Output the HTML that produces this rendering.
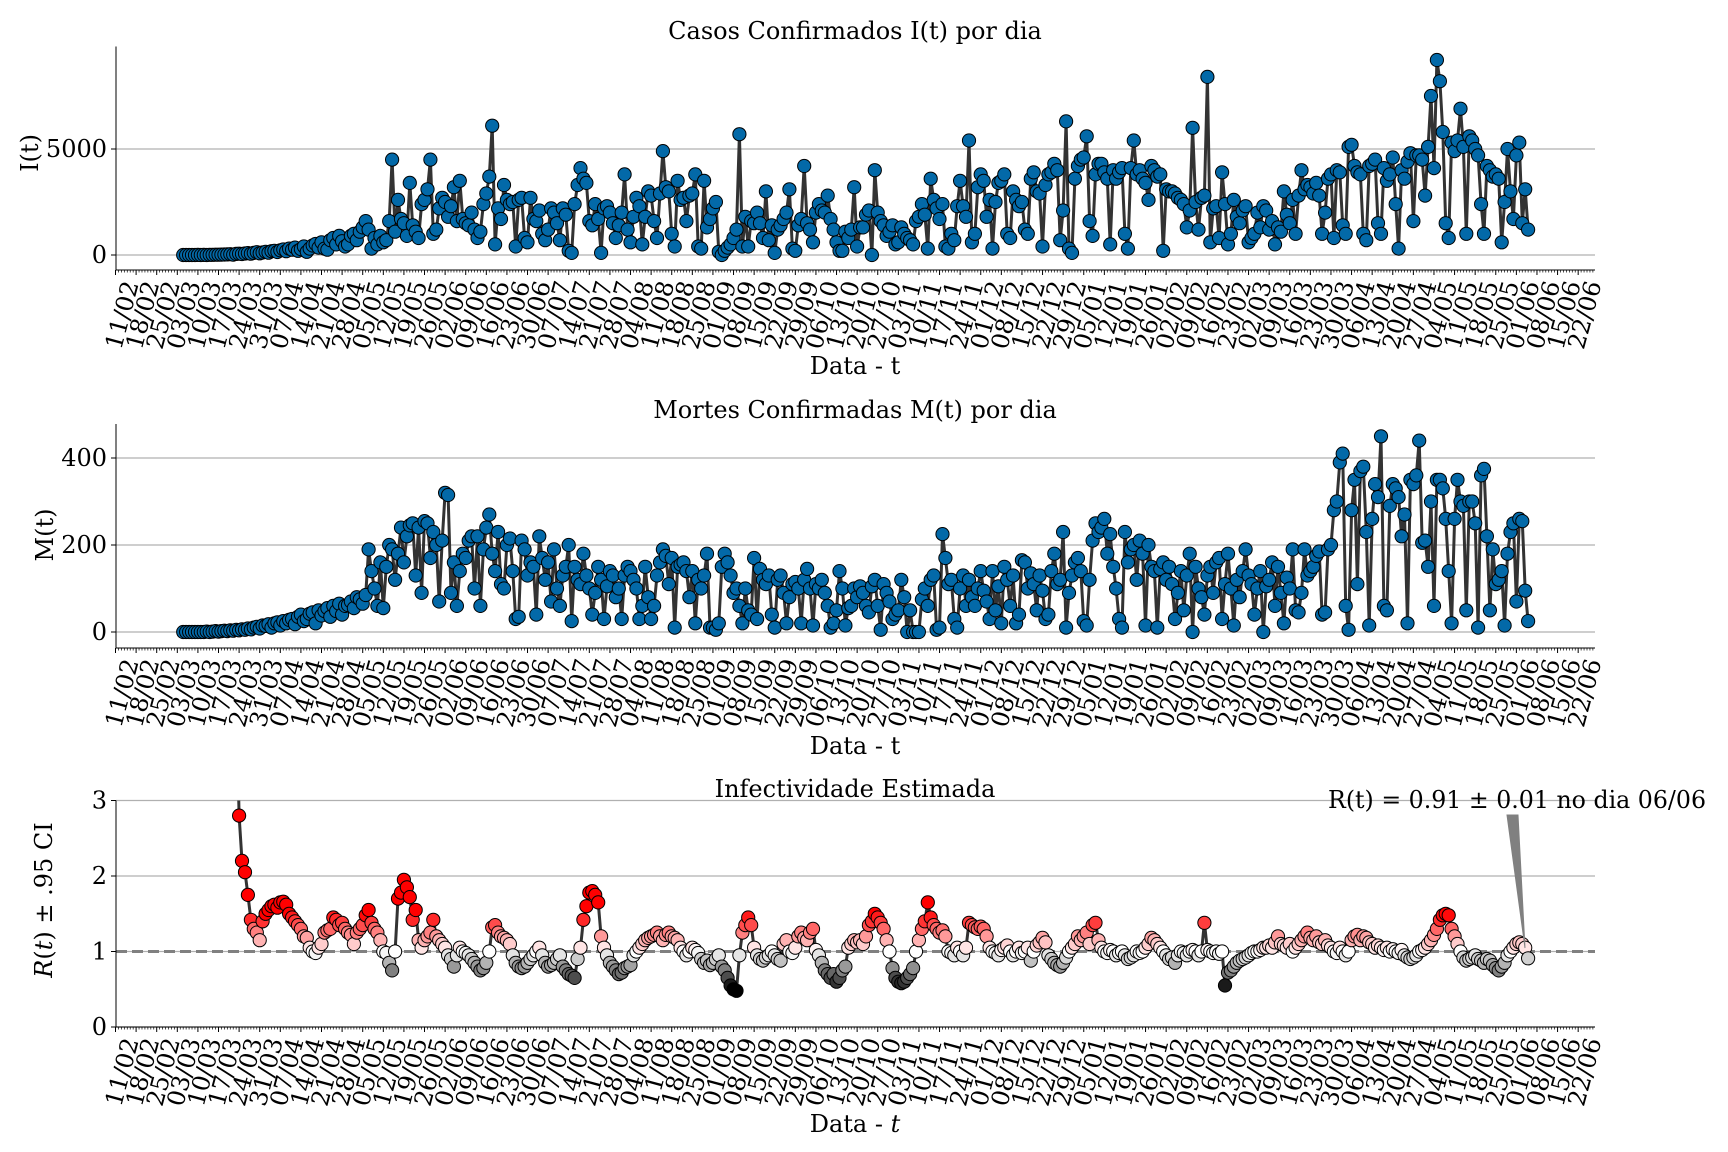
<!DOCTYPE html>
<html><head><meta charset="utf-8">
<style>
html,body{margin:0;padding:0;background:#fff;}
svg{display:block;font-family:"DejaVu Serif","Liberation Serif",serif;}
</style></head>
<body>
<svg id="chart" xmlns="http://www.w3.org/2000/svg" width="1728" height="1152" viewBox="0 0 1728 1152">
<defs><clipPath id="clipR"><rect x="100" y="800.5" width="1500" height="226.5"/></clipPath></defs>
<g id="axes"></g>
<g id="marks"></g>
<text x="855" y="39" font-size="24" text-anchor="middle">Casos Confirmados I(t) por dia</text>
<text x="855" y="418" font-size="24" text-anchor="middle">Mortes Confirmadas M(t) por dia</text>
<text x="855" y="797" font-size="24" text-anchor="middle">Infectividade Estimada</text>
<text x="855" y="374" font-size="24" text-anchor="middle">Data - t</text>
<text x="855" y="754" font-size="24" text-anchor="middle">Data - t</text>
<text x="855" y="1132" font-size="24" text-anchor="middle">Data - <tspan font-style="italic">t</tspan></text>
<text x="0" y="0" font-size="24" text-anchor="middle" transform="translate(38,153) rotate(-90)">I(t)</text>
<text x="0" y="0" font-size="24" text-anchor="middle" transform="translate(53,535) rotate(-90)">M(t)</text>
<text x="0" y="0" font-size="24" text-anchor="middle" transform="translate(52,900) rotate(-90)"><tspan font-style="italic">R</tspan>(<tspan font-style="italic">t</tspan>) ± .95 CI</text>
<polygon points="1507,815 1518,815 1525,948" fill="#808080" stroke="#808080" stroke-width="1"/>
<text x="1328" y="808" font-size="24" textLength="378" lengthAdjust="spacingAndGlyphs">R(t) = 0.91 ± 0.01 no dia 06/06</text>
</svg>
<script>
// ---- data ----
const startDate = [2020, 1, 11]; // 11/02/2020 = day 0
const casesStartDay = 23;
const cases = [
0,0,1,0,2,3,1, 5,2,8,10,15,12,20, 25,30,40,20,50,60,45, 70,90,60,100,130,80,120,
150,110,180,200,140,220,260, 180,300,250,350,200,280,400, 150,300,450,520,350,600,300,
250,700,800,500,900,650,400, 500,900,1000,700,1100,1300,1600, 1200,300,800,500,900,600,700,
1600,4500,1100,2600,1700,1500,900, 3400,1400,1100,800,2400,2600,3100, 4500,1000,1200,2200,2700,2500,1800,
2300,3200,1600,3500,1700,1500,1400, 2000,1200,800,1100,2400,2900,3700, 6100,500,2200,1700,3300,2600,2400,
2500,400,2600,2700,800,600,2700, 1700,1600,2100,1000,700,1200,2200, 2000,1500,700,2200,1900,200,100,
2400,3300,4100,3600,3400,1600,1400, 2400,1700,100,2200,2300,2000,1500, 800,1400,2000,3800,1200,600,1800,
2700,2300,500,1800,3000,2800,1600, 800,2900,4900,3200,3000,1000,400, 3500,2600,2700,1600,2800,2900,3800,
400,300,3500,1300,1700,2200,2500, 150,0,200,350,500,800,1200, 5700,400,1800,400,1600,1500,2000,
1500,800,3000,700,1400,100,1200, 1400,1700,2000,3100,300,200,1400, 1700,4200,1500,1200,600,2000,2400,
2100,2000,2800,1700,1200,600,200, 200,1100,800,1200,3200,400,1300, 1300,1900,2100,0,4000,2000,1600,
1400,900,1100,1400,500,600,1300, 1000,800,700,500,1600,1800,2400, 1900,300,3600,2600,2200,1700,2400,
400,300,1000,700,2300,3500,2300, 1800,5400,600,1000,3200,3800,3500, 1800,2600,300,2500,3400,3500,3800,
1000,800,3000,2600,2300,2500,1200, 1000,3600,3900,3000,2900,400,3300, 3800,3900,4300,4000,700,2100,6300,
300,100,3600,4200,4500,4600,5600, 1600,900,3800,4300,4300,3900,3600, 500,4000,3600,3900,4100,1000,300,
4100,5400,3800,4000,3600,3400,2600, 4200,4000,3700,3800,200,3100,3000, 3000,2900,2700,2600,2400,1300,2100,
6000,2500,1200,2700,2800,8400,600, 2200,2300,800,3900,2400,500,1000, 2600,1800,1500,2100,2300,600,800,
1000,2000,1300,2300,2100,1200,1600, 500,1300,1100,3000,1900,1500,2600, 1000,2800,4000,3100,3300,3200,2900,
3400,2800,1000,2000,3600,3800,800, 4000,3900,1400,1000,5100,5200,4200, 3900,3800,1000,700,4200,4300,4500,
1500,1000,4100,3500,3800,4600,2400, 300,4000,3600,4400,4800,1600,4700, 4700,4500,2800,5100,7500,4100,9200,
8200,5800,1500,800,5300,4900,5400, 6900,5100,1000,5600,5400,5000,4700, 2400,1000,4200,4000,3700,3800,3600,
600,2500,5000,3000,1700,4700,5300, 1500,3100,1200
];
const deaths = [
0,0,0,0,0,0,0, 0,1,0,1,2,1,2, 3,2,4,3,5,4,6, 5,8,6,10,12,8,15,
14,18,10,20,22,15,25, 20,28,30,18,35,40,25, 30,42,45,20,50,38,48,
55,35,60,48,65,40,60, 62,70,55,80,75,65,85, 190,140,100,60,160,55,150,
200,190,120,180,240,160,220, 245,250,130,240,90,255,250, 170,230,200,70,210,320,315,
90,160,60,140,180,170,210, 220,100,220,60,190,240,270, 180,140,230,110,100,200,215,
140,30,35,210,190,130,160, 150,40,220,170,120,160,70, 190,100,60,130,150,200,25,
150,120,110,180,130,100,40, 90,150,120,30,105,140,130, 80,100,30,130,150,140,120,
100,30,60,150,80,30,60, 130,160,190,175,110,170,10, 150,155,160,140,80,140,20,
120,100,130,180,10,10,5, 20,150,180,160,130,90,100, 60,20,100,50,40,170,30,
145,120,110,130,40,10,120, 130,90,20,80,110,115,100, 20,120,145,100,15,110,100,
120,90,60,10,20,50,140, 100,15,55,60,100,80,105, 90,60,45,105,120,60,5,
110,90,70,30,40,50,120, 80,0,50,0,0,0,75, 100,60,120,130,5,10,225,
170,110,120,30,10,100,130, 60,120,80,60,100,140,95, 70,30,140,50,105,20,150,
120,60,130,20,40,165,160, 100,135,110,50,130,95,30, 40,140,180,110,120,230,10,
90,130,160,170,140,25,15, 120,210,250,230,240,260,180, 225,150,100,30,10,230,160,
190,200,120,210,180,15,200, 150,140,10,145,160,120,150, 110,30,90,140,50,130,180,
0,150,100,80,40,130,150, 90,160,170,30,110,180,100, 15,120,80,140,190,130,110,
40,100,140,0,105,120,160, 60,150,90,20,125,100,190, 50,45,90,190,130,140,150,
175,185,40,45,190,200,280, 300,390,410,60,5,280,350, 110,370,380,230,15,260,340,
310,450,60,50,290,340,330, 310,220,270,20,350,340,360, 440,205,210,150,300,60,350,
350,330,260,140,20,260,350, 300,290,50,300,300,250,10, 360,375,220,50,190,110,120,
140,15,180,230,250,70,260, 255,95,25
];
const rtStartDay = 41;
const rt = [
4.5,2.8,2.2,2.05,1.75,1.42,1.3,1.25,1.15,1.4,
1.5,1.55,1.6,1.62,1.58,1.65,1.66,1.62,1.5,1.45,
1.4,1.35,1.3,1.2,1.18,1.05,1.0,0.98,1.05,1.1,
1.25,1.28,1.3,1.45,1.42,1.35,1.38,1.3,1.25,1.22,
1.1,1.25,1.3,1.35,1.48,1.55,1.38,1.3,1.25,1.15,
1.0,0.98,0.85,0.75,1.0,1.7,1.78,1.95,1.85,1.72,
1.42,1.55,1.15,1.05,1.15,1.2,1.25,1.42,1.2,1.15,
1.1,1.05,0.95,0.9,0.8,0.95,1.05,1.0,0.98,0.95,
0.9,0.85,0.8,0.75,0.78,0.85,1.0,1.32,1.35,1.25,
1.2,1.18,1.15,1.1,0.95,0.85,0.8,0.78,0.8,0.85,
0.9,0.95,1.0,1.05,0.95,0.85,0.8,0.82,0.85,0.9,
0.95,0.8,0.75,0.7,0.68,0.65,0.9,1.05,1.42,1.6,
1.78,1.8,1.75,1.65,1.2,1.05,0.95,0.85,0.8,0.75,
0.7,0.72,0.78,0.8,0.82,0.95,1.0,1.05,1.1,1.15,
1.18,1.2,1.22,1.25,1.2,1.15,1.22,1.25,1.2,1.18,
1.15,1.05,1.0,0.95,1.0,1.05,1.02,0.98,0.9,0.85,
0.88,0.82,0.85,0.9,0.95,0.8,0.75,0.65,0.55,0.5,
0.48,0.95,1.25,1.35,1.45,1.35,1.05,0.95,0.9,0.88,
0.92,0.95,1.0,0.95,0.9,0.88,1.1,1.15,1.0,0.98,
1.05,1.2,1.25,1.18,1.15,1.25,1.3,1.02,0.95,0.85,
0.75,0.7,0.65,0.7,0.6,0.65,0.75,0.8,1.05,1.1,
1.15,1.12,1.15,1.1,1.2,1.35,1.4,1.5,1.45,1.38,
1.3,1.15,1.0,0.78,0.65,0.6,0.58,0.6,0.65,0.7,
0.78,1.0,1.15,1.3,1.4,1.65,1.45,1.35,1.3,1.25,
1.28,1.2,1.0,0.98,0.95,1.05,1.0,0.95,1.05,1.38,
1.35,1.32,1.3,1.33,1.3,1.2,1.05,1.0,0.98,0.95,
1.02,1.05,1.08,1.0,0.95,1.0,1.05,0.98,1.0,1.05,
0.88,1.0,1.08,1.12,1.18,1.12,0.95,0.9,0.85,0.82,
0.8,0.85,0.92,1.0,1.05,1.1,1.2,1.15,1.2,1.25,
1.1,1.35,1.38,1.15,1.05,1.0,0.98,1.02,1.0,0.95,
0.98,1.0,0.95,0.9,0.92,0.95,1.0,0.98,1.0,1.05,
1.1,1.18,1.15,1.1,1.05,1.0,0.95,0.9,0.92,0.85,
0.95,1.0,0.98,0.95,1.0,1.02,1.0,0.95,1.0,1.38,
1.02,1.0,0.98,1.0,0.97,1.0,0.55,0.72,0.75,0.8,
0.85,0.88,0.9,0.92,0.95,0.98,1.0,1.0,1.02,1.05,
1.05,1.08,1.05,1.12,1.2,1.1,1.08,1.05,1.1,1.0,
1.05,1.1,1.15,1.2,1.25,1.18,1.15,1.2,1.12,1.1,
1.15,1.08,1.05,1.0,0.98,1.05,1.0,0.95,1.0,1.15,
1.2,1.22,1.15,1.2,1.18,1.12,1.1,1.05,1.08,1.05,
1.02,1.05,1.0,1.03,1.0,0.98,1.02,0.95,0.92,0.9,
0.92,0.95,1.0,1.02,1.05,1.1,1.15,1.22,1.3,1.42,
1.48,1.5,1.48,1.3,1.2,1.1,1.0,0.92,0.88,0.9,
0.92,0.95,0.9,0.88,0.85,0.9,0.88,0.82,0.78,0.75,
0.8,0.85,0.95,1.0,1.05,1.1,1.12,1.1,1.05,0.91
];
const casesTicks = [0, 5000];
const deathsTicks = [0, 200, 400];
const rtTicks = [0, 1, 2, 3];

// ---- scales ----
const NS = "http://www.w3.org/2000/svg";
const X0 = 115.5, PXD = 2.943, XL = 116, XR = 1595;
function xDay(d){ return X0 + PXD * d; }
function yCases(v){ return 255 - v * 0.0212; }
function yDeaths(v){ return 632 - v * 0.435; }
function yR(v){ return 1027 - v * 75.5; }
const panels = [
  {name:'cases', top:46.5, bottom:270, ticks:casesTicks, y:yCases},
  {name:'deaths', top:424, bottom:648, ticks:deathsTicks, y:yDeaths},
  {name:'rt', top:800.5, bottom:1027, ticks:rtTicks, y:yR}
];
function mk(tag, attrs, parent){
  const e = document.createElementNS(NS, tag);
  for (const k in attrs) e.setAttribute(k, attrs[k]);
  parent.appendChild(e);
  return e;
}
const axes = document.getElementById('axes');
const marks = document.getElementById('marks');
const dayMs = 86400000;
const t0 = Date.UTC(startDate[0], startDate[1], startDate[2]);
function pad(n){ return (n < 10 ? '0' : '') + n; }

panels.forEach(p => {
  const g = mk('g', {}, axes);
  
  
  p.ticks.forEach(t => {
    const y = p.y(t);
    const gl = mk('line', {x1:XL, x2:XR, y1:y, y2:y, stroke:'#b0b0b0', 'stroke-width':1.2}, g);
    
    
    mk('line', {x1:XL-5, x2:XL, y1:y, y2:y, stroke:'#000', 'stroke-width':1}, g);
    const tl = mk('text', {x:XL-9, y:y+8, 'font-size':24, 'text-anchor':'end'}, g);
    tl.textContent = String(t);
    
    
  });
  if (p.name === 'rt') {
    const dl = mk('line', {x1:XL, x2:XR, y1:yR(1), y2:yR(1), stroke:'#808080', 'stroke-width':3, 'stroke-dasharray':'11,5'}, g);
    
    
  }
  mk('line', {x1:XL, x2:XL, y1:p.top, y2:p.bottom, stroke:'#000', 'stroke-width':1}, g);
  mk('line', {x1:XL, x2:XR, y1:p.bottom, y2:p.bottom, stroke:'#000', 'stroke-width':1}, g);
  for (let d = 0; xDay(d) <= XR; d++) {
    const x = xDay(d);
    const major = d % 7 === 0;
    mk('line', {x1:x, x2:x, y1:p.bottom, y2:p.bottom + (major ? 5 : 2.5), stroke:'#000', 'stroke-width':major ? 1 : 0.7}, g);
    if (major && d <= 497) {
      const dt = new Date(t0 + d * dayMs);
      const lab = pad(dt.getUTCDate()) + '/' + pad(dt.getUTCMonth() + 1);
      const tx = mk('text', {x:0, y:0, 'font-size':24, 'text-anchor':'end',
        transform:'translate(' + (x + 6) + ',' + (p.bottom + 9) + ') rotate(-75)', dy:'0.75em'}, g);
      tx.textContent = lab;
      
      
    }
  }
});

function drawSeries(values, startDay, yf, name, colorFn, clip){
  const g = mk('g', clip ? {'clip-path':'url(#clipR)'} : {}, marks);
  
  
  const pts = values.map((v, i) => [xDay(startDay + i), yf(v)]);
  const ln = mk('polyline', {points: pts.map(p => p[0].toFixed(1) + ',' + p[1].toFixed(1)).join(' '),
    fill:'none', stroke:'#333', 'stroke-width':3, 'stroke-linejoin':'round'}, g);
  
  
  values.forEach((v, i) => {
    const c = mk('circle', {cx:pts[i][0].toFixed(1), cy:pts[i][1].toFixed(1), r:6.6,
      fill:colorFn(v), stroke:'#000', 'stroke-width':1}, g);
    
    
  });
}
function rColor(v){
  let t = (v - 0.5) / 1.0;
  t = Math.max(0, Math.min(1, t));
  if (t <= 0.5) { const g = Math.round(255 * t / 0.5); return 'rgb(' + g + ',' + g + ',' + g + ')'; }
  const gb = Math.round(255 * (1 - (t - 0.5) / 0.5));
  return 'rgb(255,' + gb + ',' + gb + ')';
}
drawSeries(cases, casesStartDay, yCases, 'cases', () => '#0369a8', false);
drawSeries(deaths, casesStartDay, yDeaths, 'deaths', () => '#0369a8', false);
drawSeries(rt, rtStartDay, yR, 'rt', rColor, true);
</script>
</body></html>
